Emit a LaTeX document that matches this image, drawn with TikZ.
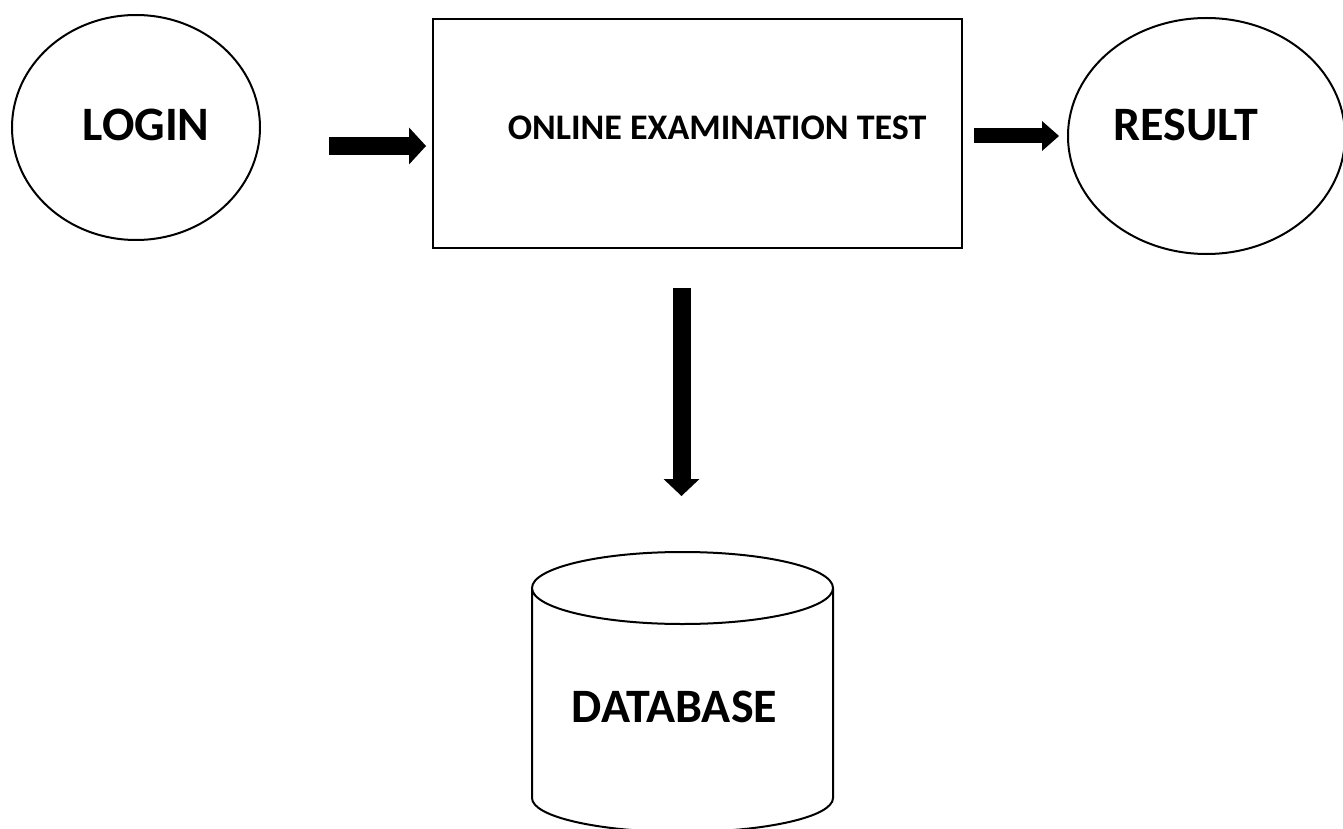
\documentclass[tikz,border=0pt]{standalone}
\usepackage{fontspec}
\setmainfont{Carlito}
\usetikzlibrary{arrows.meta,shapes.geometric}
\tikzset{
  oval/.style={draw,ellipse,line width=2pt,inner sep=0pt,outer sep=0pt},
  testbox/.style={draw,rectangle,line width=2pt,inner sep=0pt,outer sep=0pt},
  store/.style={rectangle,inner sep=0pt,outer sep=0pt},
  bigtxt/.style={font=\fontsize{48}{58}\selectfont\bfseries},
  smalltxt/.style={font=\fontsize{36}{43}\selectfont\bfseries},
  fatarrow/.style 2 args={line width=#1,-{Triangle[width=#2,length=17pt,line width=0pt]}}
}
\begin{document}
\begin{tikzpicture}[x=1pt,y=-1pt]
      \useasboundingbox (0,0) rectangle (1343,829);
      \node[oval,minimum width=248pt,minimum height=225pt,
        label={[bigtxt,xshift=10pt,yshift=3pt]center:LOGIN}] (login) at (136,127.5) {};
      \node[testbox,minimum width=529pt,minimum height=229pt,
        label={[smalltxt,xshift=19.5pt,yshift=6pt]center:ONLINE EXAMINATION TEST}] (exam) at (697.5,133.5) {};
      \node[oval,minimum width=277pt,minimum height=236pt,
        label={[bigtxt,xshift=-20.5pt,yshift=11pt]center:RESULT}] (result) at (1206.5,136) {};
      \node[store,minimum width=301pt,minimum height=280pt,
        label={[bigtxt,xshift=-8pt,yshift=-15pt]center:DATABASE}] (db) at (682.5,692) {};
      \draw[line width=2pt] ([yshift=-36pt]db.north west) -- ([yshift=34pt]db.south west)
        arc[start angle=180,end angle=360,x radius=150.5pt,y radius=34pt]
        -- ([yshift=-36pt]db.north east)
        arc[start angle=0,end angle=360,x radius=150.5pt,y radius=36pt];
      \draw[fatarrow={18pt}{37pt}] ([xshift=69pt,yshift=-18.5pt]login.east) -- ([xshift=-7pt,yshift=-12.5pt]exam.west);
      \draw[fatarrow={15pt}{30pt}] ([xshift=12pt,yshift=-2.5pt]exam.east) -- ([xshift=-9pt]result.west);
      \draw[fatarrow={18pt}{36pt}] ([xshift=-16pt,yshift=-40pt]exam.south) -- ([xshift=-1pt,yshift=56pt]db.north);
\end{tikzpicture}
\end{document}
